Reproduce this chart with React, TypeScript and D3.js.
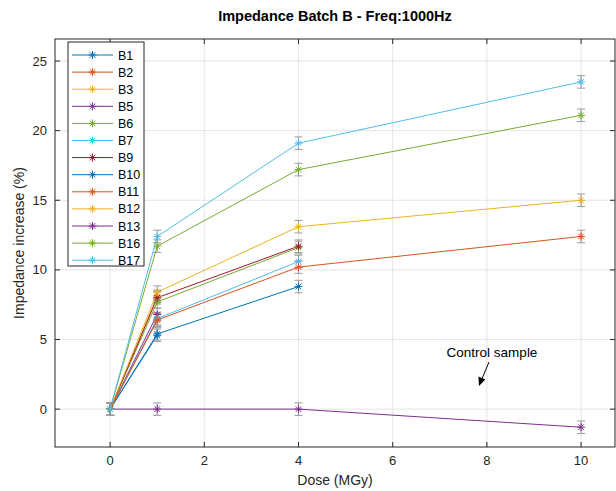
import React from "react";
import * as d3 from "d3";

// Dose steps (MGy) and measured impedance increase (%) per sample
const doses = [0, 1, 4, 10];
const seriesNames = ["B1", "B2", "B3", "B5", "B6", "B7", "B9", "B10", "B11", "B12", "B13", "B16", "B17"];
const b1 = [0, 5.3];
const b2 = [0, 6.4];
const b3 = [0, 8.1];
const b5 = [0, 6.8];
const b6 = [0, 7.7, 11.6];
const b7 = [0, 6.5, 10.6];
const b9 = [0, 8.0, 11.7];
const b10 = [0, 5.4, 8.8];
const b11 = [0, 6.4, 10.2, 12.4];
const b12 = [0, 8.4, 13.1, 15.0];
const b13 = [0, 0, 0, -1.3];
const b16 = [0, 11.7, 17.2, 21.1];
const b17 = [0, 12.4, 19.1, 23.5];
const seriesValues = [b1, b2, b3, b5, b6, b7, b9, b10, b11, b12, b13, b16, b17];
const errorHalf = 0.45;

const xTicks = [0, 2, 4, 6, 8, 10];
const yTicks = [0, 5, 10, 15, 20, 25];

const palette = ["#0072BD", "#D95319", "#EDB120", "#7E2F8E", "#77AC30", "#4DBEEE", "#A2142F"];

const W = 616;
const H = 491;
const left = 55;
const right = 615;
const top = 39;
const bottom = 447;
const font = "'Liberation Sans', Arial, Helvetica, sans-serif";
const axisColor = "#262626";

function Star({ x, y, color, r = 4 }: { x: number; y: number; color: string; r?: number }) {
  const d = r * 0.7071;
  return (
    <g stroke={color} strokeWidth={1}>
      <line x1={x - r} y1={y} x2={x + r} y2={y} />
      <line x1={x} y1={y - r} x2={x} y2={y + r} />
      <line x1={x - d} y1={y - d} x2={x + d} y2={y + d} />
      <line x1={x - d} y1={y + d} x2={x + d} y2={y - d} />
    </g>
  );
}

export default function App() {
  const x = d3.scaleLinear().domain([-1.17, 10.72]).range([left, right]);
  const y = d3.scaleLinear().domain([-2.72, 26.58]).range([bottom, top]);
  const line = d3
    .line<[number, number]>()
    .x((d) => x(d[0]))
    .y((d) => y(d[1]));

  const series = seriesNames.map((name, i) => ({
    name,
    color: palette[i % palette.length],
    pts: seriesValues[i].map((v, j) => [doses[j], v] as [number, number]),
  }));

  const legendX = 68;
  const legendY = 42;
  const legendW = 76;
  const legendRow = 17.1;
  const legendH = 224;

  return (
    <svg width={W} height={H} style={{ position: "absolute", left: 0, top: 0, background: "#fff" }} fontFamily={font}>
      <rect x={0} y={0} width={W} height={H} fill="#fff" />
      {/* grid */}
      <g stroke="#e5e5e5" strokeWidth={1}>
        {xTicks.map((t) => (
          <line key={"gx" + t} x1={x(t)} x2={x(t)} y1={top} y2={bottom} />
        ))}
        {yTicks.map((t) => (
          <line key={"gy" + t} x1={left} x2={right} y1={y(t)} y2={y(t)} />
        ))}
      </g>

      {/* series lines */}
      {series.map((s) => (
        <path key={"l" + s.name} d={line(s.pts) || ""} fill="none" stroke={s.color} strokeWidth={1} />
      ))}

      {/* error bars */}
      <g stroke="#8c8c8c" strokeWidth={1} opacity={0.85}>
        {series.map((s) =>
          s.pts.map((p, j) => {
            const cx = x(p[0]);
            const y1 = y(p[1] - errorHalf);
            const y2 = y(p[1] + errorHalf);
            return (
              <g key={"e" + s.name + j}>
                <line x1={cx} x2={cx} y1={y1} y2={y2} />
                <line x1={cx - 4} x2={cx + 4} y1={y1} y2={y1} />
                <line x1={cx - 4} x2={cx + 4} y1={y2} y2={y2} />
              </g>
            );
          })
        )}
      </g>

      {/* markers */}
      {series.map((s) =>
        s.pts.map((p, j) => <Star key={"m" + s.name + j} x={x(p[0])} y={y(p[1])} color={s.color} />)
      )}

      {/* axes box */}
      <rect x={left} y={top} width={right - left} height={bottom - top} fill="none" stroke={axisColor} strokeWidth={1} />
      <g stroke={axisColor} strokeWidth={1}>
        {xTicks.map((t) => (
          <g key={"tx" + t}>
            <line x1={x(t)} x2={x(t)} y1={bottom} y2={bottom - 5} />
            <line x1={x(t)} x2={x(t)} y1={top} y2={top + 5} />
          </g>
        ))}
        {yTicks.map((t) => (
          <g key={"ty" + t}>
            <line x1={left} x2={left + 5} y1={y(t)} y2={y(t)} />
            <line x1={right} x2={right - 5} y1={y(t)} y2={y(t)} />
          </g>
        ))}
      </g>
      <g fill={axisColor} fontSize={13}>
        {xTicks.map((t) => (
          <text key={"lx" + t} x={x(t)} y={bottom + 18} textAnchor="middle">
            {t}
          </text>
        ))}
        {yTicks.map((t) => (
          <text key={"ly" + t} x={left - 8} y={y(t) + 4.5} textAnchor="end">
            {t}
          </text>
        ))}
      </g>

      {/* titles */}
      <text x={(left + right) / 2} y={21} textAnchor="middle" fontSize={14.5} fontWeight="bold" fill="#000">
        Impedance Batch B - Freq:1000Hz
      </text>
      <text x={(left + right) / 2} y={485} textAnchor="middle" fontSize={14} fill={axisColor}>
        Dose (MGy)
      </text>
      <text
        transform={`translate(24, ${(top + bottom) / 2}) rotate(-90)`}
        textAnchor="middle"
        fontSize={14}
        fill={axisColor}
      >
        Impedance increase (%)
      </text>

      {/* annotation */}
      <text x={492} y={357} textAnchor="middle" fontSize={13.5} fill="#000">
        Control sample
      </text>
      <line x1={489} y1={362} x2={481.5} y2={380} stroke="#000" strokeWidth={1} />
      <path d="M 479 386 L 478.4 376.5 L 485.3 379.4 Z" fill="#000" />

      {/* legend */}
      <rect x={legendX} y={legendY} width={legendW} height={legendH} fill="#fff" stroke={axisColor} strokeWidth={1} />
      {series.map((s, i) => {
        const ly = legendY + 13 + i * legendRow;
        return (
          <g key={"lg" + s.name}>
            <line x1={72} x2={113} y1={ly} y2={ly} stroke={s.color} strokeWidth={1} />
            <Star x={92.5} y={ly} color={s.color} />
            <text x={118} y={ly + 4.5} fontSize={12.5} fill="#000">
              {s.name}
            </text>
          </g>
        );
      })}
    </svg>
  );
}
